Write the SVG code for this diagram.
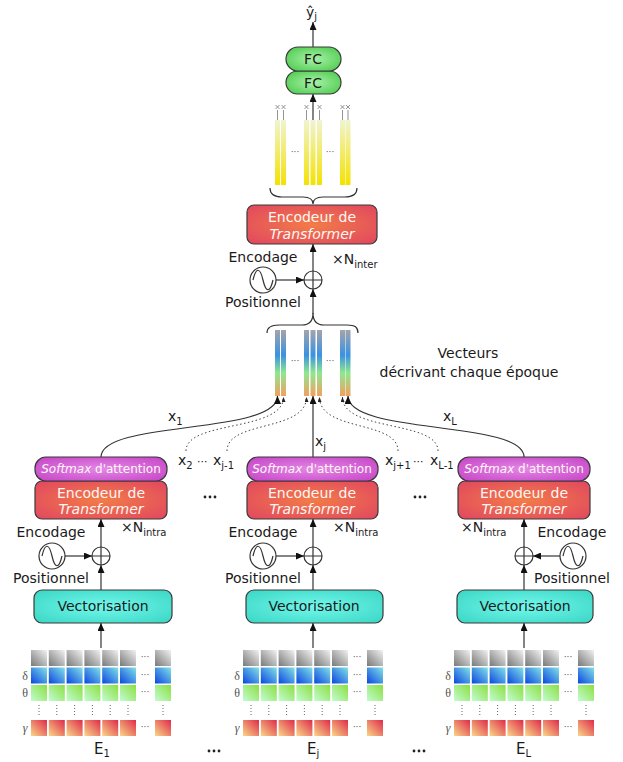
<svg xmlns="http://www.w3.org/2000/svg" xmlns:xlink="http://www.w3.org/1999/xlink" width="623" height="762" viewBox="0 0 623 762">
<style>
text{font-family:"DejaVu Sans","Liberation Sans",sans-serif;fill:#1a1a1a}
.t14{font-size:14px}
.t12{font-size:12px}
.sub{font-size:10px}
.mid{text-anchor:middle}
.w{fill:#fff6f4}
.it{font-style:italic}
.box{stroke:#3a3a3a;stroke-width:1.2}
.enc{fill:url(#gEnc)}
.soft{fill:url(#gSoft)}
.vec{fill:url(#gVec)}
.fc{fill:url(#gFC)}
.circ{fill:#fff;stroke:#333;stroke-width:1.2}
.ln{fill:none;stroke:#333;stroke-width:1.2}
.dot{fill:none;stroke:#444;stroke-width:1;stroke-dasharray:1.5 2.5}
.thin{fill:none;stroke:#777;stroke-width:0.8}
.gd{font-size:9px;fill:#555}
.lab{font-family:"Liberation Serif","DejaVu Serif",serif;font-size:12px;fill:#555}
.vd{stroke:#666;stroke-width:1;stroke-dasharray:1 2}
.bar{fill:url(#gBar)}
.ybar{fill:url(#gY)}
.bd{fill:#222}
</style>
<defs>
<radialGradient id="gEnc" cx="0.5" cy="0.5" r="0.65"><stop offset="0" stop-color="#f27c48"/><stop offset="1" stop-color="#e24a5e"/></radialGradient>
<radialGradient id="gSoft" cx="0.5" cy="0.5" r="0.65"><stop offset="0" stop-color="#e388e6"/><stop offset="1" stop-color="#c848c8"/></radialGradient>
<radialGradient id="gVec" cx="0.5" cy="0.5" r="0.65"><stop offset="0" stop-color="#72f8ec"/><stop offset="1" stop-color="#3ed8c6"/></radialGradient>
<radialGradient id="gFC" cx="0.5" cy="0.5" r="0.65"><stop offset="0" stop-color="#a8f2a8"/><stop offset="1" stop-color="#4cca4c"/></radialGradient>
<linearGradient id="gBar" x1="0" y1="0" x2="0" y2="1"><stop offset="0" stop-color="#a4a4ac"/><stop offset="0.38" stop-color="#3a92e2"/><stop offset="0.65" stop-color="#8ee88e"/><stop offset="1" stop-color="#f2a060"/></linearGradient>
<linearGradient id="gY" x1="0" y1="0" x2="0" y2="1"><stop offset="0" stop-color="#f0f4d0"/><stop offset="1" stop-color="#f4e200"/></linearGradient>
<linearGradient id="cG" x1="0" y1="1" x2="1" y2="0"><stop offset="0" stop-color="#787878"/><stop offset="1" stop-color="#f2f2f2"/></linearGradient>
<linearGradient id="cB" x1="0" y1="1" x2="1" y2="0"><stop offset="0" stop-color="#0a46e0"/><stop offset="1" stop-color="#82e2e8"/></linearGradient>
<linearGradient id="cN" x1="0" y1="1" x2="1" y2="0"><stop offset="0" stop-color="#c2fcd2"/><stop offset="1" stop-color="#8ae040"/></linearGradient>
<linearGradient id="cR" x1="0" y1="1" x2="1" y2="0"><stop offset="0" stop-color="#f8d888"/><stop offset="1" stop-color="#e02a4a"/></linearGradient>
<marker id="ah" viewBox="0 0 8 7" refX="8" refY="3.5" markerWidth="8" markerHeight="7" markerUnits="userSpaceOnUse" orient="auto"><path d="M0,0 L8,3.5 L0,7 z" fill="#111"/></marker>
<marker id="ahs" viewBox="0 0 5 4" refX="5" refY="2" markerWidth="5" markerHeight="4" markerUnits="userSpaceOnUse" orient="auto"><path d="M0,0 L5,2 L0,4 z" fill="#222"/></marker>
<g id="col">
<rect x="0" y="650" width="16" height="16" fill="url(#cG)"/>
<rect x="0" y="667.5" width="16" height="16" fill="url(#cB)"/>
<rect x="0" y="685" width="16" height="16" fill="url(#cN)"/>
<line x1="8" y1="705" x2="8" y2="716" class="vd"/>
<rect x="0" y="720" width="16" height="16" fill="url(#cR)"/>
</g>
<g id="grid">
<use xlink:href="#col" x="31"/>
<use xlink:href="#col" x="48.8"/>
<use xlink:href="#col" x="66.6"/>
<use xlink:href="#col" x="84.4"/>
<use xlink:href="#col" x="102.2"/>
<use xlink:href="#col" x="120"/>
<use xlink:href="#col" x="155"/>
<text x="145" y="660" class="gd mid">···</text>
<text x="145" y="678" class="gd mid">···</text>
<text x="145" y="695" class="gd mid">···</text>
<text x="145" y="730" class="gd mid">···</text>
<text x="25" y="680" class="lab mid">δ</text>
<text x="25" y="697" class="lab mid">θ</text>
<text x="25" y="732" class="lab mid" font-style="italic">γ</text>
</g>
<g id="sine"><circle cx="0" cy="0" r="13" class="circ"/><path d="M-10,0 C-7,-13 -3,-13 0,0 S7,13 10,0" class="ln" stroke-width="1"/></g>
<g id="plus"><circle cx="0" cy="0" r="9" class="circ"/><path d="M-9,0 H9 M0,-9 V9" class="ln" stroke-width="1"/></g>
</defs>

<!-- grids -->
<g id="grid-E1"><use xlink:href="#grid"/><text x="94" y="754" font-size="15px">E<tspan font-size="10px" dy="3">1</tspan></text></g>
<g id="grid-Ej"><use xlink:href="#grid" x="212"/><text x="307" y="754" font-size="15px">E<tspan font-size="10px" dy="3">j</tspan></text></g>
<g id="grid-EL"><use xlink:href="#grid" x="423"/><text x="516" y="754" font-size="15px">E<tspan font-size="10px" dy="3">L</tspan></text></g>

<g id="ellipsis-dots">
<circle cx="205" cy="497" r="1.4" class="bd"/><circle cx="210" cy="497" r="1.4" class="bd"/><circle cx="215" cy="497" r="1.4" class="bd"/>
<circle cx="415" cy="497" r="1.4" class="bd"/><circle cx="420" cy="497" r="1.4" class="bd"/><circle cx="425" cy="497" r="1.4" class="bd"/>
<circle cx="209" cy="751" r="1.4" class="bd"/><circle cx="214" cy="751" r="1.4" class="bd"/><circle cx="219" cy="751" r="1.4" class="bd"/>
<circle cx="414" cy="751" r="1.4" class="bd"/><circle cx="419" cy="751" r="1.4" class="bd"/><circle cx="424" cy="751" r="1.4" class="bd"/>
</g>

<!-- connectors -->
<g id="connectors">
<line x1="101" y1="648" x2="101" y2="623" class="ln" marker-end="url(#ah)"/>
<line x1="101" y1="590" x2="101" y2="565" class="ln" marker-end="url(#ah)"/>
<line x1="101" y1="547" x2="101" y2="519" class="ln" marker-end="url(#ah)"/>
<line x1="65" y1="556" x2="92" y2="556" class="ln" marker-end="url(#ah)"/>
<line x1="313" y1="648" x2="313" y2="623" class="ln" marker-end="url(#ah)"/>
<line x1="313" y1="590" x2="313" y2="565" class="ln" marker-end="url(#ah)"/>
<line x1="313" y1="547" x2="313" y2="519" class="ln" marker-end="url(#ah)"/>
<line x1="276" y1="556" x2="304" y2="556" class="ln" marker-end="url(#ah)"/>
<line x1="524" y1="648" x2="524" y2="623" class="ln" marker-end="url(#ah)"/>
<line x1="524" y1="590" x2="524" y2="565" class="ln" marker-end="url(#ah)"/>
<line x1="524" y1="547" x2="524" y2="519" class="ln" marker-end="url(#ah)"/>
<line x1="560" y1="556" x2="533" y2="556" class="ln" marker-end="url(#ah)"/>
<path d="M101,457 C101,420 277.5,435 277.5,396" class="ln" marker-end="url(#ah)"/>
<line x1="313" y1="457" x2="313" y2="396" class="ln" marker-end="url(#ah)"/>
<path d="M524,457 C524,420 348,435 348,396" class="ln" marker-end="url(#ah)"/>
<path d="M186,451 C186,420 283.5,432 283.5,397" class="dot" marker-end="url(#ahs)"/>
<path d="M227,451 C227,420 306.5,432 306.5,397" class="dot" marker-end="url(#ahs)"/>
<path d="M398,451 C398,420 319.5,432 319.5,397" class="dot" marker-end="url(#ahs)"/>
<path d="M438,451 C438,420 342.5,432 342.5,397" class="dot" marker-end="url(#ahs)"/>
<line x1="313" y1="314" x2="313" y2="289" class="ln" marker-end="url(#ah)"/>
<line x1="313" y1="271" x2="313" y2="244" class="ln" marker-end="url(#ah)"/>
<line x1="276" y1="280" x2="304" y2="280" class="ln" marker-end="url(#ah)"/>
<line x1="313" y1="120" x2="313" y2="94" class="ln" marker-end="url(#ah)"/>
<line x1="313" y1="47" x2="313" y2="22" class="ln" marker-end="url(#ah)"/>
</g>

<!-- edge labels -->
<g id="edge-labels" class="t14">
<text x="168" y="421">x<tspan class="sub" dy="4">1</tspan></text>
<text x="443" y="421">x<tspan class="sub" dy="4">L</tspan></text>
<text x="315" y="446">x<tspan class="sub" dy="4">j</tspan></text>
<text x="178" y="465">x<tspan class="sub" dy="4">2</tspan></text>
<text x="197" y="465" font-size="11px">···</text>
<text x="213" y="465">x<tspan class="sub" dy="4">j-1</tspan></text>
<text x="385" y="465">x<tspan class="sub" dy="4">j+1</tspan></text>
<text x="413" y="465" font-size="11px">···</text>
<text x="430" y="465">x<tspan class="sub" dy="4">L-1</tspan></text>
</g>

<!-- left block -->
<g id="block-1">
<rect x="34" y="590" width="138" height="33" rx="8" class="box vec"/>
<text x="103" y="611" class="t14 mid">Vectorisation</text>
<rect x="35" y="481" width="132" height="38" rx="7" class="box enc"/>
<text x="101" y="498" class="t14 mid w">Encodeur de</text>
<text x="101" y="514" class="t14 mid w it">Transformer</text>
<rect x="35" y="457" width="132" height="24" rx="11" class="box soft"/>
<text x="101" y="473" class="t12 mid w"><tspan class="it">Softmax</tspan> d'attention</text>
<use xlink:href="#sine" x="52" y="556"/>
<use xlink:href="#plus" x="101" y="556"/>
<text x="51" y="537" class="t14 mid">Encodage</text>
<text x="51" y="583" class="t14 mid">Positionnel</text>
<text x="121" y="532" class="t14">×N<tspan class="sub" dy="4">intra</tspan></text>
</g>

<!-- middle block -->
<g id="block-j">
<rect x="246" y="590" width="137" height="33" rx="8" class="box vec"/>
<text x="314" y="611" class="t14 mid">Vectorisation</text>
<rect x="247" y="481" width="131" height="38" rx="7" class="box enc"/>
<text x="312" y="498" class="t14 mid w">Encodeur de</text>
<text x="312" y="514" class="t14 mid w it">Transformer</text>
<rect x="247" y="457" width="131" height="24" rx="11" class="box soft"/>
<text x="312" y="473" class="t12 mid w"><tspan class="it">Softmax</tspan> d'attention</text>
<use xlink:href="#sine" x="263" y="556"/>
<use xlink:href="#plus" x="313" y="556"/>
<text x="263" y="537" class="t14 mid">Encodage</text>
<text x="263" y="583" class="t14 mid">Positionnel</text>
<text x="333" y="532" class="t14">×N<tspan class="sub" dy="4">intra</tspan></text>
</g>

<!-- right block -->
<g id="block-L">
<rect x="457" y="590" width="136" height="33" rx="8" class="box vec"/>
<text x="525" y="611" class="t14 mid">Vectorisation</text>
<rect x="458" y="481" width="132" height="38" rx="7" class="box enc"/>
<text x="524" y="498" class="t14 mid w">Encodeur de</text>
<text x="524" y="514" class="t14 mid w it">Transformer</text>
<rect x="458" y="457" width="132" height="24" rx="11" class="box soft"/>
<text x="524" y="473" class="t12 mid w"><tspan class="it">Softmax</tspan> d'attention</text>
<use xlink:href="#sine" x="573" y="556"/>
<use xlink:href="#plus" x="524" y="556"/>
<text x="572" y="537" class="t14 mid">Encodage</text>
<text x="572" y="583" class="t14 mid">Positionnel</text>
<text x="461" y="532" class="t14">×N<tspan class="sub" dy="4">intra</tspan></text>
</g>

<!-- epoch vectors -->
<g id="epoch-vectors">
<rect x="275" y="330" width="5" height="66" class="bar"/>
<rect x="281" y="330" width="5" height="66" class="bar"/>
<rect x="304" y="330" width="5" height="66" class="bar"/>
<rect x="310.5" y="330" width="5" height="66" class="bar"/>
<rect x="317" y="330" width="5" height="66" class="bar"/>
<rect x="340" y="330" width="5" height="66" class="bar"/>
<rect x="345.5" y="330" width="5" height="66" class="bar"/>
<text x="295" y="364" class="gd mid">···</text>
<text x="330" y="364" class="gd mid">···</text>
<path d="M267,333 C267,327 271,325 279,325 L302,325 C309,325 313,321 313,313 C313,321 317,325 324,325 L347,325 C355,325 358,327 358,333" class="ln" stroke-width="1"/>
<text x="468" y="358" class="t14 mid">Vecteurs</text>
<text x="469" y="377" class="t14 mid">décrivant chaque époque</text>
</g>

<!-- inter encoder -->
<g id="encoder-inter">
<rect x="247" y="205" width="130" height="39" rx="7" class="box enc"/>
<text x="312" y="222" class="t14 mid w">Encodeur de</text>
<text x="312" y="239" class="t14 mid w it">Transformer</text>
<use xlink:href="#sine" x="263" y="280"/>
<use xlink:href="#plus" x="313" y="280"/>
<text x="263" y="262" class="t14 mid">Encodage</text>
<text x="263" y="307" class="t14 mid">Positionnel</text>
<text x="332" y="264" class="t14">×N<tspan class="sub" dy="4">inter</tspan></text>
</g>

<!-- output vectors -->
<g id="output-vectors">
<rect x="275" y="120" width="5" height="65" class="ybar"/>
<rect x="281" y="120" width="5" height="65" class="ybar"/>
<rect x="304" y="120" width="5" height="65" class="ybar"/>
<rect x="310.5" y="120" width="5" height="65" class="ybar"/>
<rect x="317" y="120" width="5" height="65" class="ybar"/>
<rect x="340" y="120" width="5" height="65" class="ybar"/>
<rect x="345.5" y="120" width="5" height="65" class="ybar"/>
<path d="M277.5,110 V120 M283.5,110 V120 M306.5,110 V120 M319.5,110 V120 M342.5,110 V120 M348,110 V120" class="thin"/>
<path d="M275.5,105 l4,4 m0,-4 l-4,4 M281.5,105 l4,4 m0,-4 l-4,4 M304.5,105 l4,4 m0,-4 l-4,4 M317.5,105 l4,4 m0,-4 l-4,4 M340.5,105 l4,4 m0,-4 l-4,4 M346,105 l4,4 m0,-4 l-4,4" class="thin" stroke="#555"/>
<text x="295" y="155" class="gd mid">···</text>
<text x="330" y="155" class="gd mid">···</text>
<path d="M270,188 C270,194 274,197 282,197 L303,197 C309,197 313,199 313,204 C313,199 317,197 323,197 L345,197 C353,197 357,194 357,188" class="ln" stroke-width="1"/>
</g>

<!-- FC -->
<g id="fc-1"><rect x="286" y="71" width="55" height="23" rx="11.5" class="box fc"/><text x="313" y="88" class="t14 mid">FC</text></g>
<g id="fc-2"><rect x="286" y="47" width="55" height="24" rx="12" class="box fc"/><text x="313" y="64" class="t14 mid">FC</text></g>
<g id="output"><text x="306" y="17" class="t14">ŷ<tspan class="sub" dy="3">j</tspan></text></g>
</svg>
